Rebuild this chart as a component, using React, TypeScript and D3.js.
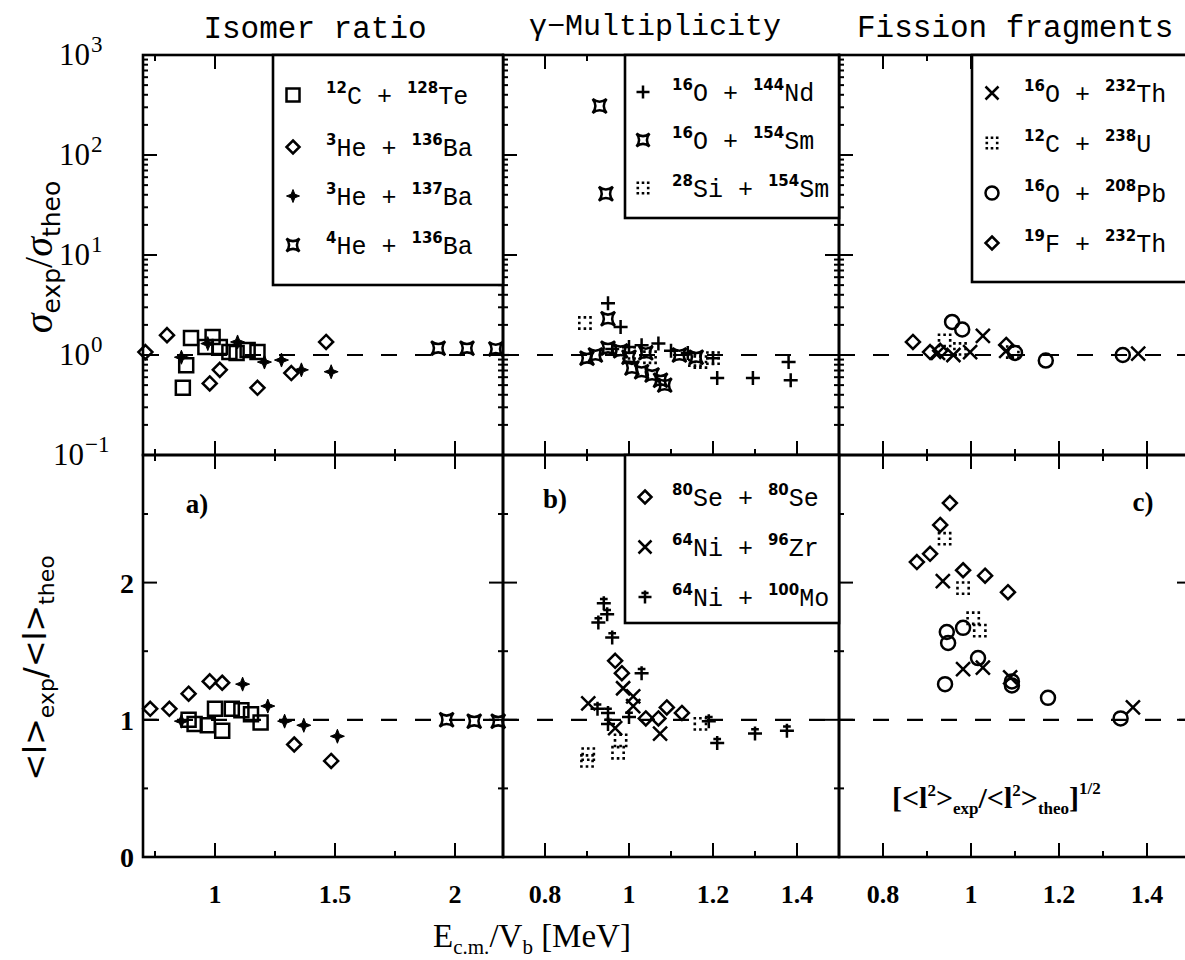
import React from 'react'
import * as d3 from 'd3'

// ---------- data (x = Ec.m./Vb, y = ratio) ----------
// top row: sigma_exp / sigma_theo (log)
const isoC12Te128 = [[0.866, 0.47], [0.88, 0.79], [0.9, 1.48], [0.96, 1.2], [0.99, 1.51], [1.02, 1.2], [1.06, 1.07], [1.09, 1.05], [1.136, 1.12], [1.177, 1.07]]
const isoHe3Ba136 = [[0.71, 1.07], [0.8, 1.58], [0.978, 0.52], [1.02, 0.71], [1.177, 0.47], [1.318, 0.66], [1.463, 1.35]]
const isoHe3Ba137 = [[0.86, 0.95], [0.97, 1.3], [1.094, 1.35], [1.206, 0.85], [1.277, 0.89], [1.36, 0.71], [1.484, 0.68]]
const isoHe4Ba136 = [[1.93, 1.17], [2.05, 1.17], [2.17, 1.15]]

const gamO16Nd144 = [[0.95, 3.3], [0.98, 1.9], [0.96, 1.15], [1.0, 1.2], [1.03, 1.25], [1.07, 1.3], [1.1, 1.1], [1.14, 1.05], [1.2, 0.93], [1.21, 0.59], [1.295, 0.59], [1.38, 0.85], [1.385, 0.56]]
const gamO16Sm154 = [[0.93, 309], [0.945, 41], [0.95, 2.3], [0.9, 0.93], [0.92, 1.0], [0.95, 1.17], [0.98, 1.1], [1.0, 0.95], [1.007, 0.74], [1.03, 0.68], [1.04, 1.05], [1.055, 0.63], [1.075, 0.56], [1.085, 0.5], [1.12, 1.0], [1.16, 0.95]]
const gamSi28Sm154 = [[0.895, 2.09], [1.0, 1.05], [1.05, 0.95], [1.157, 0.89], [1.17, 0.85], [1.2, 0.93]]

const fisO16Th232 = [[0.925, 1.05], [0.96, 1.0], [0.998, 1.07], [1.027, 1.55], [1.08, 1.1], [1.38, 1.03]]
const fisC12U238 = [[0.94, 1.4], [0.975, 1.15], [1.095, 1.07]]
const fisO16Pb208 = [[0.957, 2.14], [0.98, 1.8], [1.1, 1.05], [1.17, 0.88], [1.345, 1.0]]
const fisF19Th232 = [[0.868, 1.35], [0.907, 1.07], [0.93, 1.1], [1.08, 1.26]]

// bottom row: <l>_exp / <l>_theo
const spinC12Te128 = [[0.89, 1.0], [0.915, 0.97], [0.97, 0.96], [1.03, 0.92], [1.0, 1.08], [1.07, 1.08], [1.11, 1.07], [1.15, 1.04], [1.19, 0.98]]
const spinHe3Ba136 = [[0.73, 1.08], [0.81, 1.08], [0.89, 1.19], [0.978, 1.28], [1.03, 1.27], [1.33, 0.82], [1.484, 0.7]]
const spinHe3Ba137 = [[0.86, 0.99], [1.115, 1.26], [1.22, 1.1], [1.29, 0.99], [1.37, 0.96], [1.51, 0.88]]
const spinHe4Ba136 = [[1.965, 1.0], [2.08, 0.99], [2.18, 0.99]]

const spinSe80Se80 = [[0.967, 1.43], [0.983, 1.34], [1.04, 1.01], [1.07, 1.01], [1.09, 1.09], [1.126, 1.05]]
const spinNi64Zr96 = [[0.903, 1.12], [0.986, 1.23], [1.01, 1.17], [1.01, 1.1], [0.967, 0.94], [1.074, 0.9]]
const spinNi64Mo100 = [[0.927, 1.71], [0.94, 1.85], [0.948, 1.77], [0.96, 1.6], [1.03, 1.34], [0.925, 1.08], [0.95, 1.05], [1.0, 1.02], [0.95, 0.97], [1.19, 0.99], [1.21, 0.83], [1.3, 0.9], [1.376, 0.92]]
const spinSi28Sm154 = [[0.9, 0.7], [0.903, 0.75], [0.974, 0.76], [0.98, 0.85], [1.17, 0.97]]

const spinO16Th232 = [[0.936, 2.01], [0.982, 1.37], [1.027, 1.38], [1.089, 1.31], [1.368, 1.09]]
const spinC12U238 = [[0.94, 2.32], [0.982, 1.96], [1.005, 1.74], [1.02, 1.65]]
const spinO16Pb208 = [[0.941, 1.26], [0.945, 1.64], [0.948, 1.56], [0.982, 1.67], [1.016, 1.45], [1.093, 1.25], [1.093, 1.28], [1.175, 1.16], [1.34, 1.01]]
const spinF19Th232 = [[0.877, 2.15], [0.907, 2.21], [0.93, 2.42], [0.952, 2.58], [0.982, 2.09], [1.032, 2.05], [1.084, 1.93]]

// tick values / labels
const titles = ['Isomer ratio', 'γ−Multiplicity', 'Fission fragments']
const xMajorA = [1, 1.5, 2]
const xMinorA = [0.75, 1.25, 1.75]
const xMajorBC = [0.8, 1, 1.2, 1.4]
const xMinorBC = [0.9, 1.1, 1.3]
const logMajor = [0.1, 1, 10, 100, 1000]
const logExp = ['−1', '0', '1', '2', '3']
const linMajor = [0, 1, 2]
const linMinor = [0.5, 1.5, 2.5]

// legends: [symbol, A1, el1, A2, el2]
const legendA = [['square', '12', 'C', '128', 'Te'], ['diamond', '3', 'He', '136', 'Ba'], ['star', '3', 'He', '137', 'Ba'], ['astroid', '4', 'He', '136', 'Ba']]
const legendB = [['plus', '16', 'O', '144', 'Nd'], ['astroid', '16', 'O', '154', 'Sm'], ['dots', '28', 'Si', '154', 'Sm']]
const legendC = [['times', '16', 'O', '232', 'Th'], ['dots', '12', 'C', '238', 'U'], ['circle', '16', 'O', '208', 'Pb'], ['diamond', '19', 'F', '232', 'Th']]
const legendB2 = [['diamond', '80', 'Se', '80', 'Se'], ['times', '64', 'Ni', '96', 'Zr'], ['plusBar', '64', 'Ni', '100', 'Mo']]

// ---------- layout ----------
const cols = [
  { x0: 143, x1: 503, domain: [0.7, 2.2], major: xMajorA, minor: xMinorA },
  { x0: 503, x1: 839, domain: [0.7, 1.5], major: xMajorBC, minor: xMinorBC },
  { x0: 839, x1: 1191, domain: [0.7, 1.5], major: xMajorBC, minor: xMinorBC },
]
const yTop = d3.scaleLog().domain([0.1, 1000]).range([455, 55])
const yBot = d3.scaleLinear().domain([0, 2.93]).range([857, 455])
const logMinor = d3.range(-1, 3).flatMap(e => d3.range(2, 10).map(m => m * Math.pow(10, e)))

const SW = 2.5

function shapePath(kind, r) {
  switch (kind) {
    case 'square': return `M${-r},${-r}H${r}V${r}H${-r}Z`
    case 'diamond': return `M0,${-r}L${r},0L0,${r}L${-r},0Z`
    case 'circle': return `M${r},0A${r},${r} 0 1,1 ${-r},0A${r},${r} 0 1,1 ${r},0Z`
    case 'times': return `M${-r},${-r}L${r},${r}M${r},${-r}L${-r},${r}`
    case 'plus': return `M0,${-r}V${r}M${-r},0H${r}`
    case 'plusBar': return `M0,${-r}V${r}M${-r},0H${r}M${-r * 0.55},${-r * 0.6}H${r * 0.55}`
    case 'star': {
      const k = r * 0.28
      return `M0,${-r}L${k},${-k}L${r},0L${k},${k}L0,${r}L${-k},${k}L${-r},0L${-k},${-k}Z`
    }
    case 'astroid': {
      const q = r * 0.2
      return `M${-r},${-r}Q0,${-q} ${r},${-r}Q${q},0 ${r},${r}Q0,${q} ${-r},${r}Q${-q},0 ${-r},${-r}Z`
    }
    case 'dots': {
      let p = ''
      for (const i of [-1, 0, 1]) for (const j of [-1, 0, 1]) {
        if (i === 0 && j === 0) continue
        const cx = i * r * 0.8, cy = j * r * 0.8
        p += `M${cx - 1.3},${cy - 1.3}h2.6v2.6h-2.6Z`
      }
      return p
    }
  }
  return ''
}

function Sym({ kind, x, y, r = 7 }) {
  const filled = kind === 'star' || kind === 'dots'
  return (
    <path
      d={shapePath(kind, r)}
      transform={`translate(${x},${y})`}
      fill={filled ? '#000' : 'none'}
      stroke={kind === 'dots' ? 'none' : '#000'}
      strokeWidth={kind === 'star' ? 1 : SW}
    />
  )
}

function Series({ data, kind, sx, sy }) {
  return <g>{data.map((d, i) => <Sym key={i} kind={kind} x={sx(d[0])} y={sy(d[1])} />)}</g>
}

function Frame({ col, sy, yMajor, yMinor }) {
  const sx = d3.scaleLinear().domain(col.domain).range([col.x0, col.x1])
  const [yb, yt] = sy.range()
  const lines = []
  const tick = (x1, y1, x2, y2, k) => lines.push(<line key={k} x1={x1} y1={y1} x2={x2} y2={y2} stroke="#000" strokeWidth={2} />)
  col.major.forEach((v, i) => { tick(sx(v), yb, sx(v), yb - 14, 'xb' + i); tick(sx(v), yt, sx(v), yt + 14, 'xt' + i) })
  col.minor.forEach((v, i) => { tick(sx(v), yb, sx(v), yb - 6, 'xbm' + i); tick(sx(v), yt, sx(v), yt + 6, 'xtm' + i) })
  yMajor.forEach((v, i) => { tick(col.x0, sy(v), col.x0 + 14, sy(v), 'yl' + i); tick(col.x1, sy(v), col.x1 - 14, sy(v), 'yr' + i) })
  yMinor.forEach((v, i) => { tick(col.x0, sy(v), col.x0 + 5, sy(v), 'ylm' + i); tick(col.x1, sy(v), col.x1 - 5, sy(v), 'yrm' + i) })
  return (
    <g>
      <rect x={col.x0} y={yt} width={col.x1 - col.x0} height={yb - yt} fill="none" stroke="#000" strokeWidth={2.6} />
      {lines}
      <line x1={col.x0} x2={col.x1} y1={sy(1)} y2={sy(1)} stroke="#000" strokeWidth={2.2} strokeDasharray="16,18" />
    </g>
  )
}

function Legend({ box, items, symX, textX, rows }) {
  return (
    <g>
      <rect x={box[0]} y={box[1]} width={box[2] - box[0]} height={box[3] - box[1]} fill="#fff" stroke="#000" strokeWidth={2.6} />
      {items.map((it, i) => (
        <g key={i}>
          <Sym kind={it[0]} x={symX} y={rows[i]} r={6.5} />
          <text x={textX} y={rows[i] + 9} fontFamily="Liberation Mono, DejaVu Sans Mono, monospace" fontSize={25} fill="#000">
            <tspan fontSize={15} fontWeight="bold" dy={-11} fontFamily="DejaVu Sans">{it[1]}</tspan>
            <tspan dy={11}>{it[2]}</tspan>
            <tspan>{' + '}</tspan>
            <tspan fontSize={15} fontWeight="bold" dy={-11} fontFamily="DejaVu Sans">{it[3]}</tspan>
            <tspan dy={11}>{it[4]}</tspan>
          </text>
        </g>
      ))}
    </g>
  )
}

export default function App() {
  const sxs = cols.map(c => d3.scaleLinear().domain(c.domain).range([c.x0, c.x1]))
  const serif = 'Liberation Serif, DejaVu Serif, serif'
  const mono = 'Liberation Mono, DejaVu Sans Mono, monospace'
  return (
    <svg width={1185} height={960} viewBox="0 0 1185 960" style={{ position: 'absolute', left: 0, top: 0, background: '#fff' }}>
      <rect x={0} y={0} width={1185} height={960} fill="#fff" />

      {/* titles */}
      <text x={315} y={38} textAnchor="middle" fontFamily={mono} fontSize={31}>{titles[0]}</text>
      <text x={655} y={35} textAnchor="middle" fontFamily={mono} fontSize={30}>{titles[1]}</text>
      <text x={857} y={37} fontFamily={mono} fontSize={31}>{titles[2]}</text>

      {/* frames */}
      {cols.map((c, i) => <Frame key={'t' + i} col={c} sy={yTop} yMajor={logMajor} yMinor={logMinor} />)}
      {cols.map((c, i) => <Frame key={'b' + i} col={c} sy={yBot} yMajor={linMajor} yMinor={linMinor} />)}

      {/* legends */}
      <Legend box={[273, 55, 503, 285]} items={legendA} symX={293} textX={326} rows={[95, 147, 196, 245]} />
      <Legend box={[625, 55, 839, 218]} items={legendB} symX={643} textX={672} rows={[92, 140, 188]} />
      <Legend box={[972, 55, 1191, 282]} items={legendC} symX={992} textX={1024} rows={[93, 143, 193, 243]} />
      <Legend box={[625, 455, 839, 623]} items={legendB2} symX={645} textX={672} rows={[497, 547, 597]} />

      {/* top row data */}
      <Series data={isoC12Te128} kind="square" sx={sxs[0]} sy={yTop} />
      <Series data={isoHe3Ba136} kind="diamond" sx={sxs[0]} sy={yTop} />
      <Series data={isoHe3Ba137} kind="star" sx={sxs[0]} sy={yTop} />
      <Series data={isoHe4Ba136} kind="astroid" sx={sxs[0]} sy={yTop} />
      <Series data={gamO16Nd144} kind="plus" sx={sxs[1]} sy={yTop} />
      <Series data={gamO16Sm154} kind="astroid" sx={sxs[1]} sy={yTop} />
      <Series data={gamSi28Sm154} kind="dots" sx={sxs[1]} sy={yTop} />
      <Series data={fisO16Th232} kind="times" sx={sxs[2]} sy={yTop} />
      <Series data={fisC12U238} kind="dots" sx={sxs[2]} sy={yTop} />
      <Series data={fisO16Pb208} kind="circle" sx={sxs[2]} sy={yTop} />
      <Series data={fisF19Th232} kind="diamond" sx={sxs[2]} sy={yTop} />

      {/* bottom row data */}
      <Series data={spinC12Te128} kind="square" sx={sxs[0]} sy={yBot} />
      <Series data={spinHe3Ba136} kind="diamond" sx={sxs[0]} sy={yBot} />
      <Series data={spinHe3Ba137} kind="star" sx={sxs[0]} sy={yBot} />
      <Series data={spinHe4Ba136} kind="astroid" sx={sxs[0]} sy={yBot} />
      <Series data={spinSe80Se80} kind="diamond" sx={sxs[1]} sy={yBot} />
      <Series data={spinNi64Zr96} kind="times" sx={sxs[1]} sy={yBot} />
      <Series data={spinNi64Mo100} kind="plusBar" sx={sxs[1]} sy={yBot} />
      <Series data={spinSi28Sm154} kind="dots" sx={sxs[1]} sy={yBot} />
      <Series data={spinO16Th232} kind="times" sx={sxs[2]} sy={yBot} />
      <Series data={spinC12U238} kind="dots" sx={sxs[2]} sy={yBot} />
      <Series data={spinO16Pb208} kind="circle" sx={sxs[2]} sy={yBot} />
      <Series data={spinF19Th232} kind="diamond" sx={sxs[2]} sy={yBot} />

      {/* y tick labels */}
      {logMajor.map((v, i) => (
        <text key={'ly' + i} x={i === 0 ? 84 : 90} y={yTop(v) + 10} textAnchor="end" fontFamily={serif} fontSize={31}>
          10
        </text>
      ))}
      {logMajor.map((v, i) => (
        <text key={'le' + i} x={i === 0 ? 85 : 91} y={yTop(v) - 3} fontFamily={serif} fontSize={23}>{logExp[i]}</text>
      ))}
      {linMajor.map((v, i) => (
        <text key={'lb' + i} x={134} y={yBot(v) + 10} textAnchor="end" fontFamily={serif} fontSize={28} fontWeight="bold">{v}</text>
      ))}

      {/* x tick labels */}
      {cols.map((c, ci) => c.major.map((v, i) => (
        <text key={'xl' + ci + i} x={sxs[ci](v)} y={903} textAnchor="middle" fontFamily={serif} fontSize={26} fontWeight="bold">{String(v)}</text>
      )))}

      {/* panel tags */}
      <text x={197} y={513} textAnchor="middle" fontFamily={serif} fontSize={27} fontWeight="bold">a)</text>
      <text x={555} y={508} textAnchor="middle" fontFamily={serif} fontSize={27} fontWeight="bold">b)</text>
      <text x={1143} y={511} textAnchor="middle" fontFamily={serif} fontSize={27} fontWeight="bold">c)</text>

      {/* formula in c */}
      <text x={892} y={808} fontFamily={serif} fontSize={30} fontWeight="bold">
        [&lt;l<tspan fontSize={17} dy={-12}>2</tspan><tspan dy={12}>&gt;</tspan>
        <tspan fontSize={17} dy={6}>exp</tspan><tspan dy={-6}>/&lt;l</tspan>
        <tspan fontSize={17} dy={-12}>2</tspan><tspan dy={12}>&gt;</tspan>
        <tspan fontSize={17} dy={6}>theo</tspan><tspan dy={-6}>]</tspan>
        <tspan fontSize={17} dy={-14}>1/2</tspan>
      </text>

      {/* y axis titles */}
      <text transform="translate(52,257) rotate(-90)" textAnchor="middle" fontFamily={serif} fontSize={40}>
        <tspan fontStyle="italic">σ</tspan><tspan fontSize={25} dy={8} fontFamily="DejaVu Sans">exp</tspan>
        <tspan dy={-8}>/</tspan><tspan fontStyle="italic">σ</tspan><tspan fontSize={25} dy={8} fontFamily="DejaVu Sans">theo</tspan>
      </text>
      <text transform="translate(46,668) rotate(-90)" textAnchor="middle" fontFamily="DejaVu Sans" fontSize={32}>
        <tspan>&lt;l&gt;</tspan><tspan fontSize={22} dy={8}>exp</tspan>
        <tspan dy={-8}>/&lt;l&gt;</tspan><tspan fontSize={22} dy={8}>theo</tspan>
      </text>

      {/* x axis title */}
      <text x={532} y={947} textAnchor="middle" fontFamily={serif} fontSize={33}>
        E<tspan fontSize={21} dy={7}>c.m.</tspan><tspan dy={-7}>/V</tspan><tspan fontSize={21} dy={7}>b</tspan><tspan dy={-7}> [MeV]</tspan>
      </text>
    </svg>
  )
}
